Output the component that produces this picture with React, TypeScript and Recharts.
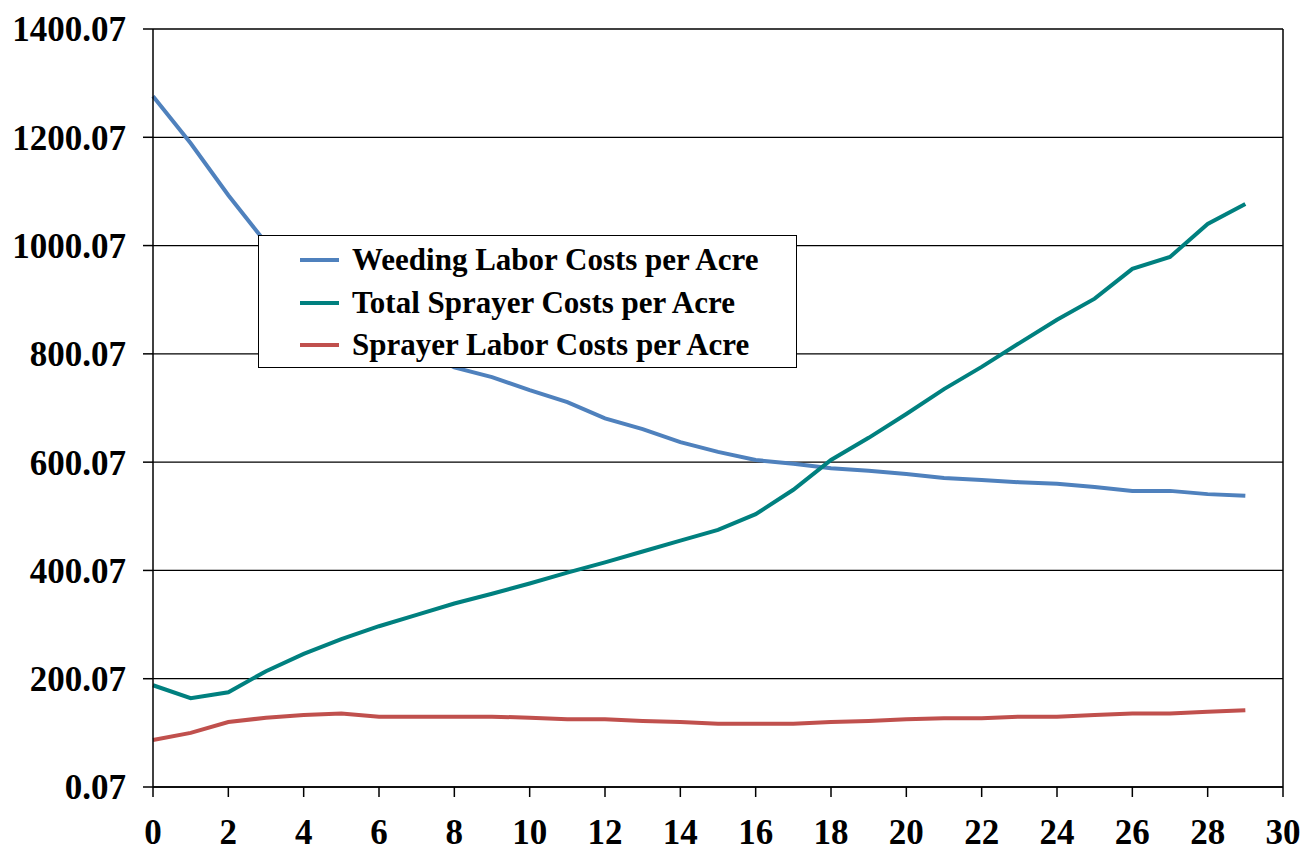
import React from 'react';
import { LineChart, Line, XAxis, YAxis, CartesianGrid, Legend, ReferenceLine } from 'recharts';

const years = [0,1,2,3,4,5,6,7,8,9,10,11,12,13,14,15,16,17,18,19,20,21,22,23,24,25,26,27,28,29];
const weeding = [1276,1189,1093,1005,945,890,850,810,775,757,733,711,681,661,637,619,604,597,589,584,578,571,567,563,560,554,547,547,541,538];
const totalSprayer = [188,164,175,214,246,273,297,318,339,357,376,396,415,435,455,475,504,549,604,645,689,735,776,820,863,902,957,979,1040,1077];
const sprayerLabor = [87,100,120,128,133,136,130,130,130,130,128,125,125,122,120,117,117,117,120,122,125,127,127,130,130,133,136,136,139,142];

const yTicks = [0.07,200.07,400.07,600.07,800.07,1000.07,1200.07,1400.07];
const xTicks = [0,2,4,6,8,10,12,14,16,18,20,22,24,26,28,30];

const seriesNames = ['Weeding Labor Costs per Acre','Total Sprayer Costs per Acre','Sprayer Labor Costs per Acre'];
const seriesColors = ['#4F81BD','#00807F','#C0504D'];

const data = years.map((x, i) => ({ x, weeding: weeding[i], total: totalSprayer[i], labor: sprayerLabor[i] }));

const FONT = '"Liberation Serif", "Times New Roman", serif';

const LegendBox = () => (
  <div style={{ boxSizing: 'border-box', width: 539, height: 133, border: '1.5px solid #000', background: '#fff', paddingTop: 3, paddingLeft: 41 }}>
    {seriesNames.map((n, i) => (
      <div key={n} style={{ display: 'flex', alignItems: 'center', height: 42.5 }}>
        <div style={{ width: 39, height: 4, background: seriesColors[i], marginRight: 13 }} />
        <span style={{ fontFamily: FONT, fontWeight: 'bold', fontSize: 31, color: '#000', whiteSpace: 'nowrap' }}>{n}</span>
      </div>
    ))}
  </div>
);

export default function App() {
  return (
    <div style={{ position: 'absolute', left: 0, top: 0, width: 1305, height: 854, background: '#fff' }}>
      <LineChart width={1305} height={854} data={data} margin={{ top: 29, right: 22, bottom: 0, left: 0 }}>
        <CartesianGrid vertical={false} stroke="#000" strokeWidth={1.3} />
        <XAxis
          dataKey="x"
          type="number"
          domain={[0, 30]}
          ticks={xTicks}
          interval={0}
          height={67}
          tickSize={10}
          tickMargin={22}
          axisLine={{ stroke: '#000', strokeWidth: 1.5 }}
          tickLine={{ stroke: '#000', strokeWidth: 1.5 }}
          tick={{ fill: '#000', fontSize: 35, fontWeight: 'bold', fontFamily: FONT }}
        />
        <YAxis
          type="number"
          domain={[0.07, 1400.07]}
          ticks={yTicks}
          interval={0}
          width={153}
          tickSize={10}
          tickMargin={17}
          tickFormatter={(v: number) => v.toFixed(2)}
          axisLine={{ stroke: '#000', strokeWidth: 1.5 }}
          tickLine={{ stroke: '#000', strokeWidth: 1.5 }}
          tick={{ fill: '#000', fontSize: 35, fontWeight: 'bold', fontFamily: FONT }}
        />
        <ReferenceLine x={30} stroke="#000" strokeWidth={1.5} />
        <Line dataKey="weeding" name={seriesNames[0]} stroke={seriesColors[0]} strokeWidth={4} dot={false} isAnimationActive={false} />
        <Line dataKey="total" name={seriesNames[1]} stroke={seriesColors[1]} strokeWidth={4} dot={false} isAnimationActive={false} />
        <Line dataKey="labor" name={seriesNames[2]} stroke={seriesColors[2]} strokeWidth={4} dot={false} isAnimationActive={false} />
        <Legend
          layout="vertical"
          align="center"
          verticalAlign="middle"
          content={() => <LegendBox />}
          wrapperStyle={{ position: 'absolute', left: 258, top: 235, width: 539, height: 133 }}
        />
      </LineChart>
    </div>
  );
}
